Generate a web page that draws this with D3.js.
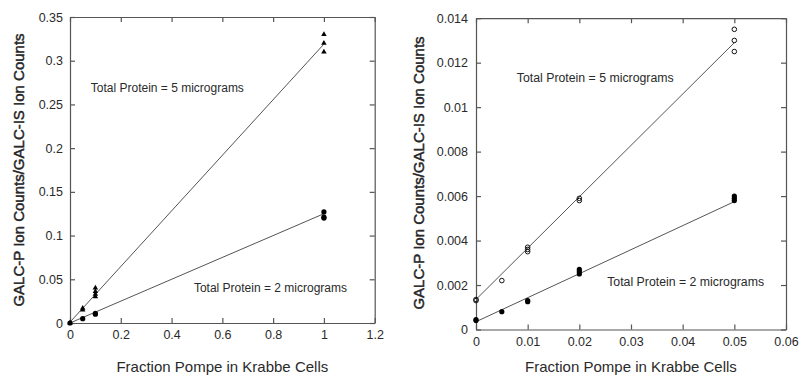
<!DOCTYPE html>
<html>
<head>
<meta charset="utf-8">
<script src="https://cdn.jsdelivr.net/npm/d3@7"></script>
<style>
  body { margin: 0; background: #fff; }
  svg text { font-family: "Liberation Sans", Arial, sans-serif; fill: #2a2a2a; }
</style>
</head>
<body>
<div id="chart"></div>
<script>
// Left panel: 0 - 1 fraction range
const leftX5 = [0, 0.05, 0.05, 0.1, 0.1, 0.1, 0.1, 1, 1, 1];
const leftY5 = [0, 0.015, 0.017, 0.03, 0.033, 0.036, 0.04, 0.31, 0.32, 0.33];
const leftX2 = [0, 0.05, 0.1, 0.1, 1, 1, 1];
const leftY2 = [0, 0.005, 0.01, 0.011, 0.12, 0.121, 0.127];
const leftFit5 = [[0, 0.001], [1, 0.319]];
const leftFit2 = [[0, 0], [1, 0.125]];
const leftXTicks = [0, 0.2, 0.4, 0.6, 0.8, 1, 1.2];
const leftYTicks = [0, 0.05, 0.1, 0.15, 0.2, 0.25, 0.3, 0.35];

// Right panel: low fraction range
const rightX5 = [0, 0, 0.005, 0.01, 0.01, 0.01, 0.02, 0.02, 0.05, 0.05, 0.05];
const rightY5 = [0.0013, 0.00135, 0.0022, 0.0035, 0.0036, 0.0037, 0.0058, 0.0059, 0.0125, 0.013, 0.0135];
const rightX2 = [0, 0, 0.005, 0.01, 0.01, 0.02, 0.02, 0.02, 0.05, 0.05, 0.05];
const rightY2 = [0.0004, 0.00045, 0.0008, 0.00125, 0.0013, 0.0025, 0.0026, 0.0027, 0.0058, 0.0059, 0.006];
const rightFit5 = [[0, 0.00135], [0.05, 0.0129]];
const rightFit2 = [[0, 0.00035], [0.05, 0.00575]];
const rightXTicks = [0, 0.01, 0.02, 0.03, 0.04, 0.05, 0.06];
const rightYTicks = [0, 0.002, 0.004, 0.006, 0.008, 0.01, 0.012, 0.014];

const label5 = 'Total Protein = 5 micrograms';
const label2 = 'Total Protein = 2 micrograms';
const xTitle = 'Fraction Pompe in Krabbe Cells';
const yTitle = 'GALC-P Ion Counts/GALC-IS Ion Counts';

const svg = d3.select('#chart')
    .append('svg')
    .attr('width', 799)
    .attr('height', 376);

const fmt = d => String(+d.toFixed(4));

function drawPanel(p) {
    const xScale = d3.scaleLinear().domain([0, d3.max(p.xTicks)]).range([p.left, p.right]);
    const yScale = d3.scaleLinear().domain([0, d3.max(p.yTicks)]).range([p.bottom, p.top]);
    const g = svg.append('g');

    // Axes, ticks point inward on all four sides
    const axes = [
        { ax: d3.axisBottom(xScale).tickValues(p.xTicks).tickFormat(fmt), t: `translate(0,${p.bottom})` },
        { ax: d3.axisTop(xScale).tickValues(p.xTicks).tickFormat(''), t: `translate(0,${p.top})` },
        { ax: d3.axisLeft(yScale).tickValues(p.yTicks).tickFormat(fmt), t: `translate(${p.left},0)` },
        { ax: d3.axisRight(yScale).tickValues(p.yTicks).tickFormat(''), t: `translate(${p.right},0)` }
    ];
    axes.forEach(a => {
        const ag = g.append('g')
            .attr('transform', a.t)
            .call(a.ax.tickSizeInner(-5).tickSizeOuter(0).tickPadding(p.pad));
        ag.select('.domain').attr('stroke', '#555').attr('stroke-width', 1.2);
        ag.selectAll('line').attr('stroke', '#555').attr('stroke-width', 1.2);
        ag.selectAll('text')
            .style('font-size', p.tickFont + 'px')
            .style('font-family', '"Liberation Sans", Arial, sans-serif')
            .attr('fill', '#333');
    });

    // Fit lines
    const line = d3.line().x(d => xScale(d[0])).y(d => yScale(d[1]));
    [p.fit5, p.fit2].forEach(f => {
        g.append('path')
            .attr('d', line(f))
            .attr('fill', 'none')
            .attr('stroke', '#555')
            .attr('stroke-width', 1);
    });

    // Points
    const pts5 = p.x5.map((x, i) => ({ x, y: p.y5[i] }));
    const pts2 = p.x2.map((x, i) => ({ x, y: p.y2[i] }));
    if (p.tri) {
        g.selectAll('.tri')
            .data(pts5)
            .enter().append('path')
            .attr('class', 'tri')
            .attr('d', d3.symbol(d3.symbolTriangle, 13))
            .attr('transform', d => `translate(${xScale(d.x)},${yScale(d.y)})`)
            .attr('fill', '#000');
    } else {
        g.selectAll('.open')
            .data(pts5)
            .enter().append('circle')
            .attr('class', 'open')
            .attr('cx', d => xScale(d.x))
            .attr('cy', d => yScale(d.y))
            .attr('r', 2.3)
            .attr('fill', 'none')
            .attr('stroke', '#111')
            .attr('stroke-width', 1);
    }
    g.selectAll('.dot')
        .data(pts2)
        .enter().append('circle')
        .attr('class', 'dot')
        .attr('cx', d => xScale(d.x))
        .attr('cy', d => yScale(d.y))
        .attr('r', 2.6)
        .attr('fill', '#000');

    // Annotations
    g.append('text')
        .attr('x', xScale(p.lab5[0]))
        .attr('y', yScale(p.lab5[1]))
        .style('font-size', p.labFont + 'px')
        .text(label5);
    g.append('text')
        .attr('x', xScale(p.lab2[0]))
        .attr('y', yScale(p.lab2[1]))
        .style('font-size', p.labFont + 'px')
        .text(label2);

    // Axis titles
    g.append('text')
        .attr('x', (p.left + p.right) / 2)
        .attr('y', 372)
        .attr('text-anchor', 'middle')
        .style('font-size', '15px')
        .text(xTitle);
    g.append('text')
        .attr('transform', `translate(${p.yTitleX},${p.yTitleY}) rotate(-90)`)
        .attr('text-anchor', 'middle')
        .attr('dy', '0.35em')
        .style('font-size', '15px')
        .attr('stroke', '#1a1a1a')
        .attr('stroke-width', 0.45)
        .text(yTitle);
}

drawPanel({
    left: 70, right: 374.7, top: 17, bottom: 323,
    xTicks: leftXTicks, yTicks: leftYTicks,
    x5: leftX5, y5: leftY5, x2: leftX2, y2: leftY2,
    fit5: leftFit5, fit2: leftFit2, tri: true,
    lab5: [0.082, 0.264], lab2: [0.488, 0.0355],
    pad: 7, tickFont: 12.5, labFont: 12,
    yTitleX: 18.5, yTitleY: 170
});

drawPanel({
    left: 476, right: 786, top: 18.2, bottom: 329.5,
    xTicks: rightXTicks, yTicks: rightYTicks,
    x5: rightX5, y5: rightY5, x2: rightX2, y2: rightY2,
    fit5: rightFit5, fit2: rightFit2, tri: false,
    lab5: [0.0079, 0.01113], lab2: [0.0254, 0.00196],
    pad: 8, tickFont: 12.5, labFont: 12.3,
    yTitleX: 418.5, yTitleY: 173
});
</script>
</body>
</html>
